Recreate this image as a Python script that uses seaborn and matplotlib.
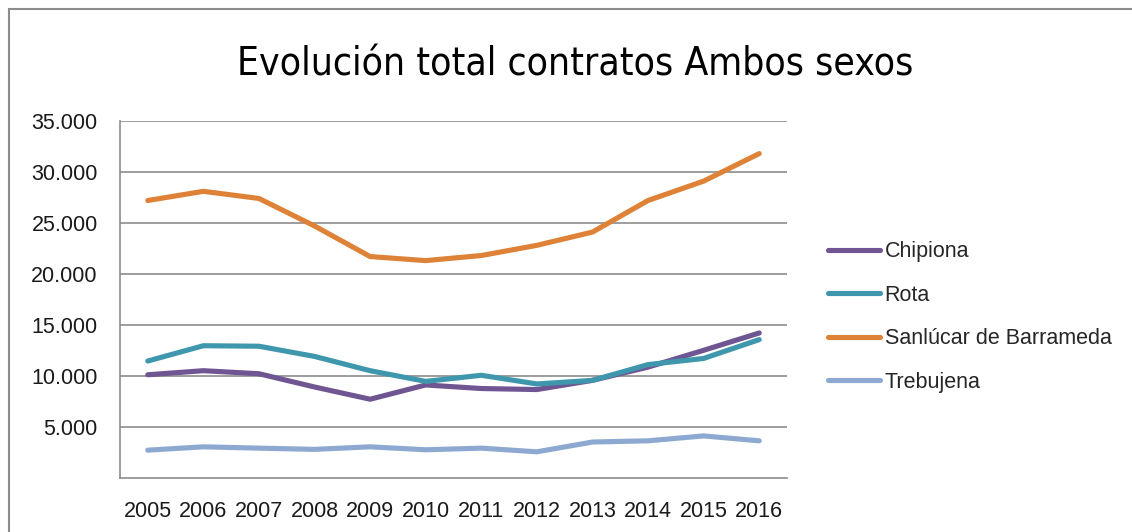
import pandas as pd
import matplotlib.pyplot as plt
import seaborn as sns
from matplotlib.patches import Rectangle
from matplotlib.ticker import FuncFormatter

# Data
years = [2005, 2006, 2007, 2008, 2009, 2010, 2011, 2012, 2013, 2014, 2015, 2016]
chipiona = [10100, 10500, 10200, 8900, 7700, 9100, 8750, 8650, 9550, 10850, 12500, 14200]
rota = [11450, 12950, 12900, 11900, 10500, 9450, 10050, 9200, 9550, 11100, 11700, 13550]
sanlucar = [27200, 28100, 27400, 24700, 21700, 21300, 21800, 22800, 24100, 27200, 29100, 31800]
trebujena = [2700, 3030, 2900, 2780, 3030, 2740, 2900, 2540, 3500, 3620, 4100, 3620]

series = ['Chipiona', 'Rota', 'Sanlúcar de Barrameda', 'Trebujena']
colors = ['#6F5591', '#3F97AE', '#DE8237', '#8EA9D1']

df = pd.DataFrame({'year': years, 'Chipiona': chipiona, 'Rota': rota,
                   'Sanlúcar de Barrameda': sanlucar, 'Trebujena': trebujena})
long = df.melt(id_vars='year', var_name='municipio', value_name='contratos')

sns.set_theme(style='white')
plt.rcParams['font.family'] = ['Liberation Sans', 'DejaVu Sans']

fig = plt.figure(figsize=(11.32, 5.32), dpi=100)
ax = fig.add_axes([120 / 1132, (532 - 477.7) / 532, 667 / 1132, 356.7 / 532])

sns.lineplot(data=long, x='year', y='contratos', hue='municipio', hue_order=series,
             palette=dict(zip(series, colors)), linewidth=3.7, ax=ax,
             solid_capstyle='round', legend=False)

ax.set_xlim(2004.5, 2016.5)
ax.set_ylim(0, 35000)
ax.set_xticks(years)
ax.set_yticks(range(5000, 35001, 5000))
ax.yaxis.set_major_formatter(FuncFormatter(lambda v, p: f'{int(v):,}'.replace(',', '.')))
ax.tick_params(axis='both', length=0, labelsize=15.5, colors='#1a1a1a')
ax.tick_params(axis='x', pad=17)
ax.tick_params(axis='y', pad=16)
ax.set_xlabel('')
ax.set_ylabel('')
ax.grid(axis='y', color='#8c8c8c', linewidth=1.2)
ax.set_axisbelow(True)
for side in ['top', 'right']:
    ax.spines[side].set_visible(False)
for side in ['left', 'bottom']:
    ax.spines[side].set_color('#8c8c8c')
    ax.spines[side].set_linewidth(1.2)

# legend on the right
handles = [plt.Line2D([], [], color=c, linewidth=3.7, solid_capstyle='round') for c in colors]
fig.legend(handles, series, loc='center left', bbox_to_anchor=(819 / 1132, 1 - 317 / 532),
           frameon=False, fontsize=15.5, handlelength=2.45, handletextpad=0.2,
           labelspacing=1.05, borderaxespad=0)

fig.text(575 / 1132, 1 - 65 / 532, 'Evolución total contratos Ambos sexos',
         ha='center', va='center', fontsize=28, color='black', fontstretch='condensed',
         family=['DejaVu Sans'])

# chart border (cropped Excel frame)
fig.patches.append(Rectangle((9 / 1132, -0.2), 1.2, 1.2 - 9 / 532, transform=fig.transFigure,
                             fill=False, edgecolor='#8c8c8c', linewidth=1.5))

fig.savefig('out.png', dpi=100)
